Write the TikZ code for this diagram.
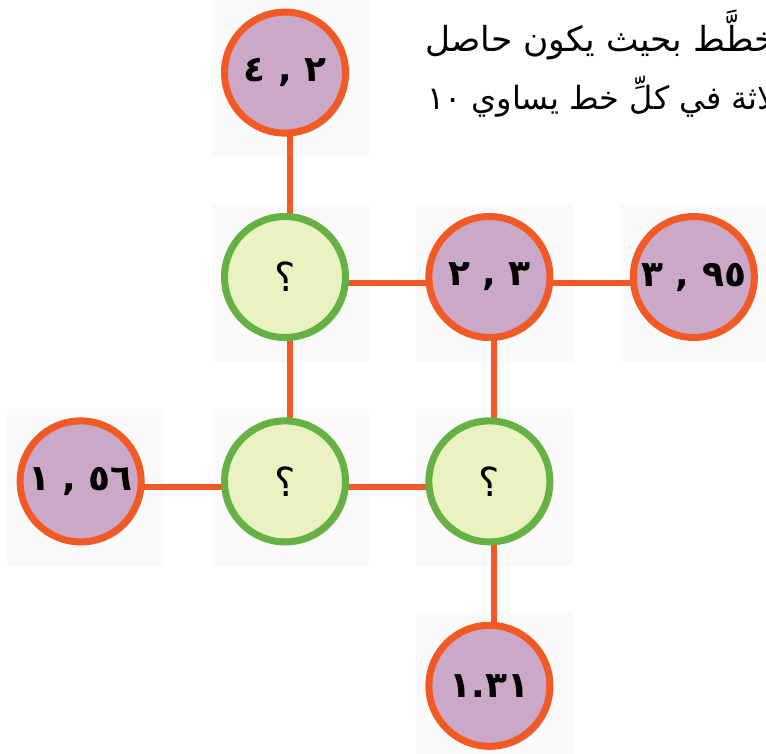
\documentclass[tikz,border=0pt]{standalone}
\usepackage{fontspec}
\newfontfamily\arabicfont[Script=Arabic]{DejaVu Sans}
\TeXXeTstate=1
\usetikzlibrary{positioning, shadows}
\definecolor{linkorange}{HTML}{F15A24}
\definecolor{givenfill}{HTML}{CBA8C8}
\definecolor{unkgreen}{HTML}{66B143}
\definecolor{unkfill}{HTML}{EBF2C2}
\definecolor{tilegray}{HTML}{FAFAFA}

\begin{document}
\begin{tikzpicture}[
    x=1pt, y=-1pt,
    node distance=47pt and 47pt,
    tile/.style={rectangle, fill=tilegray, minimum size=157pt, inner sep=0pt},
    given/.style={circle, draw=linkorange, line width=7pt, fill=givenfill, minimum size=121pt, inner sep=0pt, xshift=-5pt, yshift=6pt, font=\arabicfont\bfseries\fontsize{36}{36}\selectfont, drop shadow={shadow xshift=3pt, shadow yshift=-3pt, opacity=0.22, fill=black}},
    unknown/.style={circle, draw=unkgreen, line width=7pt, fill=unkfill, minimum size=121pt, inner sep=0pt, xshift=-5pt, yshift=6pt, font=\arabicfont\fontsize{40}{40}\selectfont, drop shadow={shadow xshift=3pt, shadow yshift=-3pt, opacity=0.22, fill=black}},
    note/.style={anchor=base west, inner sep=0pt},
    link/.style={draw=linkorange, line width=6pt}
]
\useasboundingbox (0,0) rectangle (766,754);
\clip (0,0) rectangle (766,754);

% TILES
\node[tile] (sqq1) at (290,283) {};
\node[tile, above=of sqq1] (sq42) {};
\node[tile, right=of sqq1] (sq23) {};
\node[tile, right=of sq23] (sq395) {};
\node[tile, below=of sqq1] (sqq2) {};
\node[tile, left=of sqq2] (sq156) {};
\node[tile, right=of sqq2] (sqq3) {};
\node[tile, below=of sqq3] (sq131) {};

% LINKS
\draw[link] (sq42.center) -- (sqq1.center);
\draw[link] (sqq1.center) -- (sq23.center);
\draw[link] (sq23.center) -- (sq395.center);
\draw[link] (sqq1.center) -- (sqq2.center);
\draw[link] (sq23.center) -- (sqq3.center);
\draw[link] (sq156.center) -- (sqq2.center);
\draw[link] (sqq2.center) -- (sqq3.center);
\draw[link] (sqq3.center) -- (sq131.center);

% CIRCLES
\node[given] (n42) at (sq42.center) {٤ , ٢};
\node[unknown] (q1) at (sqq1.center) {؟};
\node[given] (n23) at (sq23.center) {٢ , ٣};
\node[given] (n395) at (sq395.center) {٣ , ٩٥};
\node[given] (n156) at (sq156.center) {١ , ٥٦};
\node[unknown] (q2) at (sqq2.center) {؟};
\node[unknown] (q3) at (sqq3.center) {؟};
\node[given] (n131) at (sq131.center) {١.٣١};

% TEXT
\node[note, font=\arabicfont\fontsize{34.5}{34.5}\selectfont] (line1) at (425,52) {\beginR خطَّط بحيث يكون حاصل\endR};
\node[note, font=\arabicfont\fontsize{32}{32}\selectfont] (line2) at (427,110) {\beginR لاثة في كلِّ خط يساوي ١٠\endR};

\end{tikzpicture}
\end{document}
